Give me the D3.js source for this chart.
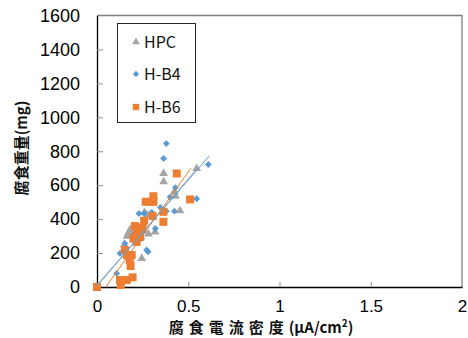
<!DOCTYPE html>
<html>
<head>
<meta charset="utf-8">
<script src="https://cdn.jsdelivr.net/npm/d3@7"></script>
<style>
  html, body { margin: 0; padding: 0; background: #fff; }
  svg { display: block; }
</style>
</head>
<body>
<script>
// values: [current density (uA/cm2), corrosion weight (mg)]
const hpc = [
  [0.365, 669], [0.365, 620], [0.546, 698], [0.424, 561], [0.43, 535],
  [0.455, 449], [0.318, 325], [0.282, 312], [0.276, 423], [0.245, 169],
  [0.172, 316], [0.18, 335], [0.195, 355], [0.165, 300], [0.26, 440],
  [0.21, 290], [0.15, 250]
]
const hb4 = [
  [0.38, 845], [0.365, 757], [0.61, 722], [0.43, 586], [0.546, 520],
  [0.424, 447], [0.38, 447], [0.347, 469], [0.23, 433], [0.258, 433],
  [0.32, 345], [0.272, 218], [0.28, 208], [0.153, 257], [0.126, 198],
  [0.108, 80], [0.208, 296], [0.245, 285], [0.254, 325], [0.23, 340],
  [0.2, 310], [0.4, 530], [0.3, 440]
]
const hb6 = [
  [0, 0], [0.437, 669], [0.51, 516], [0.267, 502], [0.309, 502],
  [0.309, 535], [0.29, 502], [0.305, 418], [0.364, 443], [0.364, 384],
  [0.258, 390], [0.208, 359], [0.208, 296], [0.236, 296], [0.2, 285],
  [0.217, 266], [0.153, 218], [0.163, 188], [0.19, 188], [0.18, 159],
  [0.184, 124], [0.126, 41], [0.13, 12], [0.163, 41], [0.195, 57],
  [0.22, 320], [0.25, 350]
]
// linear trend lines as seen in the picture: [x start, x end, slope, intercept]
const trends = {
  hpc: [0, 0.555, 1265, 5],
  hb4: [0, 0.615, 1240, 10],
  hb6: [0.048, 0.515, 1500, -72]
}
const seriesNames = ['HPC', 'H-B4', 'H-B6']
const xTicks = [0, 0.5, 1, 1.5, 2]
const yTicks = [0, 200, 400, 600, 800, 1000, 1200, 1400, 1600]

const width = 468
const height = 338

const svg = d3.select('body').append('svg')
  .attr('viewBox', `0 0 ${width} ${height}`)
  .attr('width', width)
  .attr('height', height)

const x = d3.scaleLinear().domain([0, 2]).range([97, 462])
const y = d3.scaleLinear().domain([0, 1600]).range([287, 15.5])

const colors = {hpc: '#a5a5a5', hb4: '#5b9bd5', hb6: '#ed7d31'}
const symbols = {hpc: d3.symbolTriangle, hb4: d3.symbolDiamond2, hb6: d3.symbolSquare}
const sizes = {hpc: 34, hb4: 30, hb6: 64}

// plot frame (top / right)
svg.append('path')
  .attr('d', `M${x(0)},${y(1600)}H${x(2)}V${y(0)}`)
  .attr('fill', 'none')
  .attr('stroke', '#7f7f7f')
  .attr('stroke-width', 1.3)

const tickFont = '"Liberation Sans", Arial, sans-serif'

svg.append('g')
  .attr('transform', `translate(0,${y(0)})`)
  .call(d3.axisBottom(x).tickValues(xTicks).tickSizeInner(-5).tickSizeOuter(0).tickPadding(13)
    .tickFormat(d => String(d)))
  .call(g => g.select('.domain').attr('stroke', '#000').attr('stroke-width', 1.3))
  .call(g => g.selectAll('.tick line').attr('stroke', '#8c8c8c'))
  .call(g => g.selectAll('.tick').filter(d => d == 0 || d == 2).select('line').remove())
  .call(g => g.selectAll('text').attr('font-family', tickFont).attr('font-size', 17).attr('fill', '#000'))

svg.append('g')
  .attr('transform', `translate(${x(0)},0)`)
  .call(d3.axisLeft(y).tickValues(yTicks).tickSizeInner(-6).tickSizeOuter(0).tickPadding(17)
    .tickFormat(d => String(d)))
  .call(g => g.select('.domain').attr('stroke', '#000').attr('stroke-width', 1.3))
  .call(g => g.selectAll('.tick line').attr('stroke', '#8c8c8c'))
  .call(g => g.selectAll('.tick').filter(d => d == 0 || d == 1600).select('line').remove())
  .call(g => g.selectAll('text').attr('font-family', tickFont).attr('font-size', 18).attr('fill', '#000'))

const data = {hpc, hb4, hb6}
const keys = ['hpc', 'hb4', 'hb6']

// markers
for (const k of keys) {
  svg.append('g')
    .selectAll('path')
    .data(data[k])
    .join('path')
      .attr('transform', d => `translate(${x(d[0])},${y(d[1])})`)
      .attr('d', d3.symbol(symbols[k], sizes[k]))
      .attr('fill', colors[k])
}

// trend lines
const line = d3.line().x(d => x(d[0])).y(d => y(d[1]))
for (const k of ['hb6', 'hpc', 'hb4']) {
  const [x0, x1, a, b] = trends[k]
  svg.append('path')
    .attr('d', line([[x0, a * x0 + b], [x1, a * x1 + b]]))
    .attr('fill', 'none')
    .attr('stroke', colors[k])
    .attr('stroke-width', 1)
}

// legend
const legend = svg.append('g')
legend.append('rect')
  .attr('x', 117.5).attr('y', 23.5)
  .attr('width', 78).attr('height', 99)
  .attr('fill', '#fff')
  .attr('stroke', '#262626')
  .attr('stroke-width', 1)

const rowY = [42, 74, 107]
keys.forEach((k, i) => {
  legend.append('path')
    .attr('transform', `translate(136,${rowY[i]})`)
    .attr('d', d3.symbol(symbols[k], k == 'hb6' ? 40 : 26))
    .attr('fill', colors[k])
  legend.append('text')
    .attr('x', 144).attr('y', rowY[i])
    .attr('dy', '0.36em')
    .attr('font-family', '"Noto Sans CJK JP", sans-serif')
    .attr('font-size', 16)
    .attr('fill', '#111')
    .text(seriesNames[i])
})

// axis titles
const cjk = '"Noto Sans CJK JP", sans-serif'
svg.append('text')
  .attr('transform', 'translate(27,148) rotate(-90)')
  .attr('text-anchor', 'middle')
  .attr('font-family', cjk)
  .attr('font-size', 15)
  .attr('font-weight', 'bold')
  .attr('fill', '#111')
  .text('腐食重量(mg)')

const xt = svg.append('text')
  .attr('x', 261).attr('y', 333)
  .attr('text-anchor', 'middle')
  .attr('font-family', cjk)
  .attr('font-size', 15)
  .attr('font-weight', 'bold')
  .attr('fill', '#111')
xt.append('tspan').attr('letter-spacing', 5).text('腐食電流密度')
xt.append('tspan').text('(μA/cm')
xt.append('tspan').attr('font-size', 10).attr('dy', -6).text('2')
xt.append('tspan').attr('dy', 6).text(')')
</script>
</body>
</html>
